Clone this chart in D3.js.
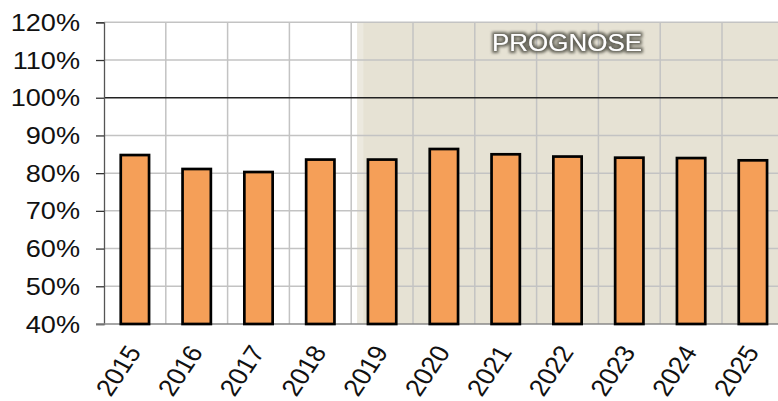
<!DOCTYPE html>
<html lang="de">
<head>
<meta charset="UTF-8">
<title>Prognose</title>
<script src="https://d3js.org/d3.v7.min.js"></script>
<style>
  body { margin: 0; background: #fff; }
  text { font-family: "Liberation Sans", Arial, sans-serif; }
</style>
</head>
<body>
<div id="container"></div>
<script>
    var years = ["2015", "2016", "2017", "2018", "2019", "2020", "2021", "2022", "2023", "2024", "2025"];
    var values = [0.848, 0.811, 0.803, 0.836, 0.836, 0.864, 0.850, 0.844, 0.841, 0.840, 0.834];
    var yTicks = [0.4, 0.5, 0.6, 0.7, 0.8, 0.9, 1.0, 1.1, 1.2];
    var forecastFrom = "2019";
    var forecastLabel = "PROGNOSE";

    var width = 778, height = 401;
    var plotLeft = 104, plotTop = 22.3, plotBottom = 324;
    var step = 61.8;
    var stretch = 1.13; // text in the picture looks a bit wide

    var svg = d3.select("#container")
        .append("svg")
        .attr("width", width)
        .attr("height", height);

    var defs = svg.append("defs");
    var glow = defs.append("filter").attr("id", "glow")
        .attr("x", "-20%").attr("y", "-40%").attr("width", "140%").attr("height", "180%");
    glow.append("feMorphology").attr("in", "SourceAlpha").attr("operator", "dilate").attr("radius", 2.2).attr("result", "d");
    glow.append("feGaussianBlur").attr("in", "d").attr("stdDeviation", 1.4).attr("result", "b");
    glow.append("feFlood").attr("flood-color", "#66655a").attr("result", "c");
    glow.append("feComposite").attr("in", "c").attr("in2", "b").attr("operator", "in").attr("result", "s");
    var m = glow.append("feMerge");
    m.append("feMergeNode").attr("in", "s");
    m.append("feMergeNode").attr("in", "SourceGraphic");

    var x = d3.scaleBand()
        .domain(years)
        .range([plotLeft, plotLeft + step * years.length])
        .paddingInner(0.5)
        .paddingOuter(0.25);

    var y = d3.scaleLinear()
        .domain([0.4, 1.2])
        .range([plotBottom, plotTop]);

    var edge = function (d) { return x(d) - x.step() * 0.25; };

    // prognose area
    var shadeX = edge(forecastFrom) + x.step() * 0.1;
    svg.append("rect")
        .attr("x", shadeX).attr("y", plotTop)
        .attr("width", width - shadeX).attr("height", plotBottom - plotTop)
        .attr("fill", "#e6e2d4");
    svg.append("rect")
        .attr("x", shadeX).attr("y", plotTop)
        .attr("width", 6).attr("height", plotBottom - plotTop)
        .attr("fill", "#ece9df");

    // grid
    svg.append("g").selectAll("line")
        .data(yTicks.filter(function (t) { return t !== 1.0 && t !== 0.4; }))
        .enter().append("line")
        .attr("x1", plotLeft).attr("x2", width)
        .attr("y1", function (d) { return y(d); })
        .attr("y2", function (d) { return y(d); })
        .attr("stroke", "#c3c3c3")
        .attr("stroke-width", 1.5);

    svg.append("g").selectAll("line")
        .data(years.slice(1))
        .enter().append("line")
        .attr("x1", edge).attr("x2", edge)
        .attr("y1", plotTop).attr("y2", plotBottom)
        .attr("stroke", "#c3c3c3")
        .attr("stroke-width", 1.5);

    // 100% line
    svg.append("line")
        .attr("x1", plotLeft).attr("x2", width)
        .attr("y1", y(1.0)).attr("y2", y(1.0))
        .attr("stroke", "#222")
        .attr("stroke-width", 1.3);

    // axes
    var yAxis = svg.append("g")
        .attr("transform", "translate(" + plotLeft + ",0)")
        .call(d3.axisLeft(y).tickValues(yTicks).tickSize(8).tickFormat(""));
    yAxis.select(".domain").attr("stroke", "#555").attr("stroke-width", 1.3);
    yAxis.selectAll(".tick line").attr("stroke", "#333").attr("stroke-width", 1.3);

    svg.append("line")
        .attr("x1", plotLeft - 8).attr("x2", width)
        .attr("y1", plotBottom).attr("y2", plotBottom)
        .attr("stroke", "#888")
        .attr("stroke-width", 1.5);

    svg.append("g").selectAll("text")
        .data(yTicks)
        .enter().append("text")
        .attr("transform", function (d) { return "translate(80," + (y(d) + 8.6) + ") scale(" + stretch + ",1)"; })
        .attr("text-anchor", "end")
        .attr("font-size", 24)
        .attr("fill", "#111")
        .text(function (d) { return Math.round(d * 100) + "%"; });

    // bars
    svg.append("g").selectAll("rect")
        .data(values)
        .enter().append("rect")
        .attr("x", function (d, i) { return x(years[i]) + 1.3; })
        .attr("y", function (d) { return y(d); })
        .attr("width", x.bandwidth() - 2.6)
        .attr("height", function (d) { return y(0.4) - y(d); })
        .attr("fill", "#f59f58")
        .attr("stroke", "#000")
        .attr("stroke-width", 2.7);

    // x labels
    svg.append("g").selectAll("text")
        .data(years)
        .enter().append("text")
        .attr("transform", function (d) {
            return "translate(" + (x(d) + x.bandwidth() / 2 + 7) + ",352) scale(" + stretch + ",1) rotate(-59)";
        })
        .attr("text-anchor", "end")
        .attr("font-size", 24)
        .attr("fill", "#111")
        .text(function (d) { return d; });

    // prognose label
    svg.append("text")
        .attr("transform", "translate(567,51) scale(" + stretch + ",1)")
        .attr("text-anchor", "middle")
        .attr("font-size", 23)
        .attr("fill", "#fff")
        .attr("filter", "url(#glow)")
        .text(forecastLabel);
</script>
</body>
</html>
